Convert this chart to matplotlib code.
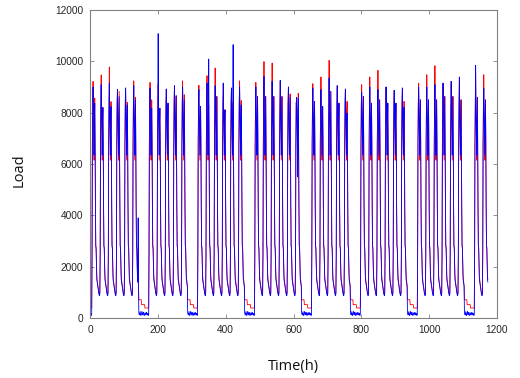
import numpy as np
import matplotlib.pyplot as plt

# hourly load, 49 days; days listed below are rest days
n_days = 49
n_hours = 1174
off_days = [6, 12, 19, 26, 32, 39, 46]

# morning (hour 9) and afternoon (hour 14) peaks of each working day
red_am = [9220, 9470, 9780, 8900, 8960, 9240,
          9180, 9100, 8920, 9050, 9240,
          9070, 9440, 9740, 9150, 8960, 9240,
          9180, 9990, 9930, 9260, 9000, 8240,
          9130, 9390, 10040, 9050, 8920,
          9090, 9390, 9650, 9000, 8870, 8960,
          9150, 9480, 9830, 9150, 9220, 9200,
          9600, 9480]
blue_am = [9000, 9090, 9150, 8900, 8960, 9050,
           8960, 11080, 8920, 9050, 9000,
           8900, 9150, 9050, 9150, 8960, 9000,
           9000, 9410, 9220, 9260, 9000, 8600,
           8960, 8900, 9350, 9050, 8920,
           8790, 9000, 8900, 9000, 8870, 8960,
           9000, 9000, 9090, 9150, 9220, 9390,
           9840, 8960]
red_pm = [8570, 8200, 8430, 8830, 8400, 8600,
          8500, 8170, 8370, 8660, 8700,
          8240, 8300, 8630, 8110, 8400, 8470,
          8630, 8630, 8630, 8630, 8730, 8760,
          8440, 8240, 8830, 8370, 8440,
          8630, 8370, 8500, 8370, 8370, 8440,
          8500, 8500, 8500, 8630, 8630, 8500,
          8600, 8500]
blue_pm = [8370, 8200, 8240, 8630, 8300, 8500,
           8170, 8170, 8370, 8660, 8500,
           8240, 10090, 8630, 8110, 10650, 8300,
           8630, 8630, 8630, 8630, 8600, 8570,
           8440, 8240, 8830, 8370, 7980,
           8630, 8370, 8500, 8370, 8370, 8200,
           8500, 8500, 8500, 8630, 8630, 8500,
           8600, 8500]

# typical 24-hour shapes (hour 9 and 14 replaced by the peaks above)
red_work = [1200, 1100, 1000, 950, 920, 1000, 2500, 6800, 8400, 0, 8100, 7300,
            6150, 7600, 0, 6900, 4400, 2850, 2750, 2100, 1650, 1500, 1380, 1280]
blue_work = [1150, 1050, 950, 900, 870, 950, 2450, 6750, 8300, 0, 8000, 7300,
             6350, 7600, 0, 6900, 4400, 2800, 2700, 2000, 1500, 1400, 1330, 1230]
red_rest = [710, 710, 710, 710, 710, 710, 710, 710, 520, 520, 520, 520,
            520, 520, 520, 520, 520, 520, 390, 390, 390, 390, 390, 390]
blue_rest = [200, 150, 120, 180, 250, 150, 100, 130, 200, 260, 180, 120,
             150, 220, 180, 120, 100, 150, 200, 160, 120, 180, 220, 150]
red_early = [390, 390, 390, 390, 390, 390]
blue_early = [150, 120, 180, 130, 100, 160]

blue_fix = {5 * 24 + 22: 3900, 25 * 24 + 12: 5500}

red = []
blue = []
k = 0
for d in range(n_days):
    if d in off_days:
        red += red_rest
        blue += blue_rest
        continue
    r = list(red_work)
    b = list(blue_work)
    r[9], r[14] = red_am[k], red_pm[k]
    b[9], b[14] = blue_am[k], blue_pm[k]
    if d == 0 or (d - 1) in off_days:
        r[:6] = red_early
        b[:6] = blue_early
    red += r
    blue += b
    k += 1

red = np.array(red[:n_hours], dtype=float)
blue = np.array(blue[:n_hours], dtype=float)
for h, v in blue_fix.items():
    blue[h] = v
t = np.arange(n_hours)

fig = plt.figure(figsize=(5.2, 3.78), dpi=100)
ax = fig.add_axes([90 / 520, 60 / 378, 407 / 520, 308 / 378])
ax.plot(t, red, color="#ff0000", lw=0.6)
ax.plot(t, blue, color="#0000ff", lw=0.6)

ax.set_xlim(0, 1200)
ax.set_ylim(0, 12000)
ax.set_xticks(range(0, 1201, 200))
ax.set_yticks(range(0, 12001, 2000))
ax.tick_params(direction="in", top=True, right=True, length=3, width=0.6,
               color="#808080", labelsize=7.3, labelcolor="#262626", pad=5)
for s in ax.spines.values():
    s.set_color("#808080")
    s.set_linewidth(0.8)
for lab in ax.get_xticklabels() + ax.get_yticklabels():
    lab.set_family("Liberation Sans")

ax.set_xlabel("Time(h)", fontsize=10.5, family="Open Sans", color="#111111")
ax.set_ylabel("Load", fontsize=10.5, family="Open Sans", color="#111111")
ax.xaxis.set_label_coords(0.5, -0.133)
ax.yaxis.set_label_coords(-0.155, 0.48)

fig.savefig("out.png", dpi=100)
